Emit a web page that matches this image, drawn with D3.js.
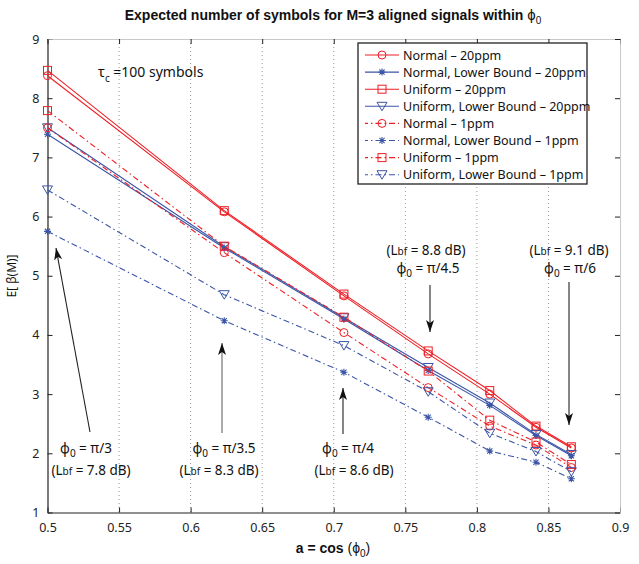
<!DOCTYPE html>
<html>
<head>
<meta charset="utf-8">
<script src="https://cdn.jsdelivr.net/npm/d3@7"></script>
<style>
  body { margin: 0; background: #fff; }
  svg { display: block; font-family: "Noto Sans", sans-serif; }
</style>
</head>
<body>
<svg id="chart" width="639" height="564"></svg>
<script>
// phi0 = pi/3, pi/3.5, pi/4, pi/4.5, pi/5, pi/5.5, pi/6  -> a = cos(phi0)
var aValues = [0.5, 0.6235, 0.7071, 0.766, 0.809, 0.8413, 0.866];

var normal20 = [8.38, 6.08, 4.66, 3.68, 3.00, 2.44, 2.09];
var normalLB20 = [7.39, 5.47, 4.27, 3.40, 2.81, 2.30, 1.96];
var uniform20 = [8.47, 6.10, 4.69, 3.73, 3.06, 2.46, 2.11];
var uniformLB20 = [7.50, 5.49, 4.29, 3.45, 2.85, 2.32, 1.98];
var normal1 = [7.50, 5.39, 4.04, 3.11, 2.46, 2.14, 1.76];
var normalLB1 = [5.75, 4.24, 3.37, 2.61, 2.04, 1.85, 1.57];
var uniform1 = [7.79, 5.50, 4.30, 3.39, 2.56, 2.19, 1.81];
var uniformLB1 = [6.45, 4.68, 3.82, 3.04, 2.34, 2.03, 1.69];

var seriesNames = [
  "Normal \u2013 20ppm",
  "Normal, Lower Bound \u2013 20ppm",
  "Uniform \u2013 20ppm",
  "Uniform, Lower Bound \u2013 20ppm",
  "Normal \u2013 1ppm",
  "Normal, Lower Bound \u2013 1ppm",
  "Uniform \u2013 1ppm",
  "Uniform, Lower Bound \u2013 1ppm"
];
var seriesValues = [normal20, normalLB20, uniform20, uniformLB20, normal1, normalLB1, uniform1, uniformLB1];
var seriesMarkers = ["circle", "star", "square", "triangle", "circle", "star", "square", "triangle"];

var xTicks = [0.5, 0.55, 0.6, 0.65, 0.7, 0.75, 0.8, 0.85, 0.9];
var yTicks = [1, 2, 3, 4, 5, 6, 7, 8, 9];

var red = "#ee1f26", blue = "#3b55a6";
var PHI = "\u03d5";

var svg = d3.select("#chart");
var x = d3.scaleLinear().domain([0.5, 0.9]).range([47.5, 620]);
var y = d3.scaleLinear().domain([1, 9]).range([512.5, 39]);

// vertical dotted grid
svg.append("g").selectAll("line")
  .data(xTicks.slice(1, -1))
  .enter().append("line")
  .attr("x1", function(d) { return x(d); }).attr("x2", function(d) { return x(d); })
  .attr("y1", y(9)).attr("y2", y(1))
  .attr("stroke", "#999").attr("stroke-width", 1)
  .attr("stroke-dasharray", "1,3");

// axes
var xAxis = svg.append("g").attr("transform", "translate(0," + y(1) + ")")
  .call(d3.axisBottom(x).tickValues(xTicks).tickSizeInner(-5).tickSizeOuter(0)
    .tickPadding(11).tickFormat(d3.format("")));
var yAxis = svg.append("g").attr("transform", "translate(" + x(0.5) + ",0)")
  .call(d3.axisLeft(y).tickValues(yTicks).tickSizeInner(-5).tickSizeOuter(0).tickPadding(8));
var xTop = svg.append("g").attr("transform", "translate(0," + y(9) + ")")
  .call(d3.axisTop(x).tickValues(xTicks).tickSizeInner(-5).tickSizeOuter(0).tickFormat(""));
var yRight = svg.append("g").attr("transform", "translate(" + x(0.9) + ",0)")
  .call(d3.axisRight(y).tickValues(yTicks).tickSizeInner(-5).tickSizeOuter(0).tickFormat(""));

[xAxis, yAxis, xTop, yRight].forEach(function(g) {
  g.selectAll("path").attr("stroke", "#222").attr("stroke-width", 1.2);
  g.selectAll("line").attr("stroke", "#222");
  g.selectAll("text").attr("fill", "#222").style("font-size", "12.5px")
    .style("font-family", "'Noto Sans', sans-serif");
});
xTop.select("path").attr("stroke", "#bbb").attr("stroke-width", 0.8);
yRight.select("path").attr("stroke", "#bbb").attr("stroke-width", 0.8);

function drawMarker(g, type, color) {
  if (type === "circle") {
    g.append("circle").attr("r", 4).attr("fill", "none").attr("stroke", color).attr("stroke-width", 1);
  } else if (type === "square") {
    g.append("rect").attr("x", -4).attr("y", -4).attr("width", 8).attr("height", 8)
      .attr("fill", "none").attr("stroke", color).attr("stroke-width", 1);
  } else if (type === "triangle") {
    g.append("path").attr("d", "M-5,-4L5,-4L0,4.5Z")
      .attr("fill", "none").attr("stroke", color).attr("stroke-width", 1);
  } else {
    g.append("path").attr("d", "M-3.5,0H3.5M0,-3.5V3.5M-2.6,-2.6L2.6,2.6M-2.6,2.6L2.6,-2.6")
      .attr("fill", "none").attr("stroke", color).attr("stroke-width", 1.1);
  }
}

var line = d3.line()
  .x(function(d, i) { return x(aValues[i]); })
  .y(function(d) { return y(d); });

seriesValues.forEach(function(vals, k) {
  var color = (k % 2 === 0) ? red : blue;
  var dash = k < 4 ? null : "6,3,1.5,3";
  svg.append("path").datum(vals)
    .attr("d", line)
    .attr("fill", "none").attr("stroke", color).attr("stroke-width", 1.1)
    .attr("stroke-dasharray", dash);
  vals.forEach(function(v, i) {
    var g = svg.append("g").attr("transform", "translate(" + x(aValues[i]) + "," + y(v) + ")");
    drawMarker(g, seriesMarkers[k], color);
  });
});

// legend
var legend = svg.append("g");
legend.append("rect").attr("x", 358).attr("y", 43).attr("width", 229).attr("height", 141)
  .attr("fill", "#fff").attr("stroke", "#222").attr("stroke-width", 1.3);
seriesNames.forEach(function(name, k) {
  var ly = 55 + k * 17.1;
  var color = (k % 2 === 0) ? red : blue;
  legend.append("line").attr("x1", 365).attr("x2", 399).attr("y1", ly).attr("y2", ly)
    .attr("stroke", color).attr("stroke-width", 1.1)
    .attr("stroke-dasharray", k < 4 ? null : "6,3,1.5,3")
    .attr("stroke-dashoffset", k < 4 ? 0 : 3);
  drawMarker(legend.append("g").attr("transform", "translate(382," + ly + ")"), seriesMarkers[k], color);
  legend.append("text").attr("x", 403).attr("y", ly + 4.5)
    .style("font-size", "12.5px").attr("fill", "#111").text(name);
});

// title
var title = svg.append("text").attr("x", 333).attr("y", 20).attr("text-anchor", "middle")
  .style("font-family", "'Liberation Sans', Arial, sans-serif").style("font-size", "14px")
  .style("font-weight", "bold").attr("fill", "#111");
title.append("tspan").text("Expected number of symbols for M=3 aligned signals within ");
title.append("tspan").style("font-weight", "normal").style("font-size", "15px").text(PHI);
title.append("tspan").style("font-weight", "normal").style("font-size", "10px").attr("dy", 4).text("0");

// axis labels
var xl = svg.append("text").attr("x", 333).attr("y", 553).attr("text-anchor", "middle")
  .style("font-family", "'Liberation Sans', Arial, sans-serif").style("font-size", "14px").attr("fill", "#111");
xl.append("tspan").style("font-weight", "bold").text("a = cos ");
xl.append("tspan").text("(" + PHI);
xl.append("tspan").style("font-size", "10px").attr("dy", 4).text("0");
xl.append("tspan").attr("dy", -4).text(")");

svg.append("text").attr("transform", "translate(16,276) rotate(-90)").attr("text-anchor", "middle")
  .style("font-size", "12px").attr("fill", "#111").text("E[ \u03b2(M)]");

// tau_c label
var tau = svg.append("text").attr("x", 98).attr("y", 77).style("font-size", "14px").attr("fill", "#111");
tau.append("tspan").text("\u03c4");
tau.append("tspan").style("font-size", "10px").attr("dy", 5).text("c");
tau.append("tspan").attr("dy", -5).text(" =100 symbols");

// annotations
var defs = svg.append("defs");
defs.append("marker").attr("id", "arrow").attr("viewBox", "0 0 12 8")
  .attr("refX", 12).attr("refY", 4).attr("markerWidth", 12).attr("markerHeight", 8)
  .attr("markerUnits", "userSpaceOnUse").attr("orient", "auto")
  .append("path").attr("d", "M0,0L12,4L0,8L3,4Z").attr("fill", "#111");

var arrows = [
  [90, 432, 56, 248, "#222"],
  [222, 433, 222, 343, "#666"],
  [343, 434, 343, 388, "#222"],
  [430, 285, 430, 332, "#222"],
  [569, 282, 569, 425, "#222"]
];
arrows.forEach(function(a) {
  svg.append("line").attr("x1", a[0]).attr("y1", a[1]).attr("x2", a[2]).attr("y2", a[3])
    .attr("stroke", a[4]).attr("stroke-width", 1.1).attr("marker-end", "url(#arrow)");
});

function phiLabel(cx, by, frac) {
  var t = svg.append("text").attr("x", cx).attr("y", by).attr("text-anchor", "middle")
    .style("font-size", "13.5px").attr("fill", "#111");
  t.append("tspan").text(PHI);
  t.append("tspan").style("font-size", "10px").attr("dy", 4).text("0");
  t.append("tspan").attr("dy", -4).text(" = \u03c0/" + frac);
}
function lbfLabel(cx, by, db) {
  var t = svg.append("text").attr("x", cx).attr("y", by).attr("text-anchor", "middle")
    .style("font-size", "13.5px").attr("fill", "#111");
  t.append("tspan").text("(L");
  t.append("tspan").style("font-size", "10px").text("bf");
  t.append("tspan").text(" = " + db + " dB)");
}
phiLabel(86, 453, "3");   lbfLabel(91, 475, "7.8");
phiLabel(224, 453, "3.5"); lbfLabel(219, 475, "8.3");
phiLabel(348, 453, "4");   lbfLabel(354, 475, "8.6");
lbfLabel(426, 255, "8.8"); phiLabel(428, 273, "4.5");
lbfLabel(569, 255, "9.1"); phiLabel(570, 273, "6");
</script>
</body>
</html>
